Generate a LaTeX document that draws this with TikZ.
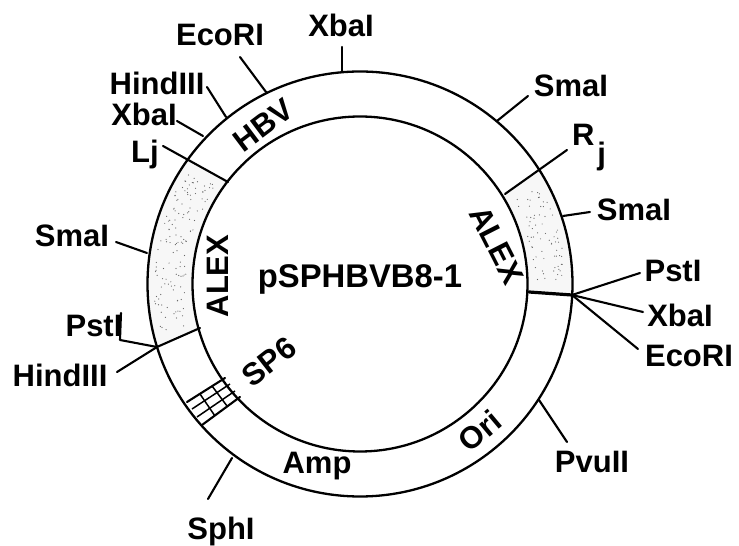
\documentclass[tikz,border=0pt]{standalone}
\usepackage{fontspec}
\setmainfont{Liberation Sans}
\usetikzlibrary{calc}
\tikzset{
  ringline/.style={line width=2.3pt,black},
  tick/.style={line width=2.1pt,black,line cap=round,line join=round},
  hatchline/.style={line width=1.5pt,black},
  lab/.style={inner sep=0pt,outer sep=0pt,anchor=base,font=\fontsize{31}{36}\selectfont\bfseries,text=black},
  inlab/.style={inner sep=0pt,outer sep=0pt,font=\fontsize{31}{36}\selectfont\bfseries,text=black},
  shade/.style={fill=black!3},
}
\begin{document}
\begin{tikzpicture}[x=1pt,y=1pt]
\useasboundingbox (0,0) rectangle (739,546);
\fill[white] (0,0) rectangle (739,546);
\coordinate (c) at (360,262);
% shaded ALEX sectors
\fill[shade] (c) ++(143.7:212.5) arc[start angle=143.7,end angle=197.2,radius=212.5]
  -- ($(c)+(195.4:167.5)$) arc[start angle=195.4,end angle=142.3,radius=167.5] -- cycle;
\fill[shade] (c) ++(32.6:212.5) arc[start angle=32.6,end angle=-2.7,radius=212.5]
  -- ($(c)+(-3:167.5)$) arc[start angle=-3,end angle=32.3,radius=167.5] -- cycle;
\pgfmathsetseed{7}
\foreach \i in {1,...,130}{
  \pgfmathsetmacro{\aa}{146+rnd*48}
  \pgfmathsetmacro{\rr}{174+rnd*32}
  \fill[black!60] ($(c)+(\aa:\rr)$) circle (0.6);
}
\foreach \i in {1,...,70}{
  \pgfmathsetmacro{\aa}{0+rnd*29}
  \pgfmathsetmacro{\rr}{174+rnd*32}
  \fill[black!60] ($(c)+(\aa:\rr)$) circle (0.6);
}
% rings
\draw[ringline] (c) circle (212.5);
\draw[ringline] (c) circle (167.5);

\begin{scope}[shift={(0,546)},y=-1pt]
% end points
\coordinate (ecoT1) at (240,57);   \coordinate (ecoT2) at (266,92);
\coordinate (hinT1) at (207,87);   \coordinate (hinT2) at (226,117);
\coordinate (xbaL1) at (177,121);  \coordinate (xbaL2) at (203,136);
\coordinate (lj1) at (163,146);    \coordinate (lj2) at (228,182);
\coordinate (xbaT1) at (342,47);   \coordinate (xbaT2) at (342,72);
\coordinate (smaT1) at (528,96);   \coordinate (smaT2) at (497,121);
\coordinate (rj1) at (567,150);    \coordinate (rj2) at (505,194);
\coordinate (smaR1) at (590,212);  \coordinate (smaR2) at (563,216);
\coordinate (hub) at (572,295);    \coordinate (hubin) at (529,292);
\coordinate (pstR) at (640,273);   \coordinate (xbaR) at (643,312);
\coordinate (ecoR) at (638,349);
\coordinate (pvu1) at (539,400);   \coordinate (pvu2) at (567,442);
\coordinate (sph1) at (232,458);   \coordinate (sph2) at (208,499);
\coordinate (hinL1) at (117,372);  \coordinate (hinL2) at (157,347);
\coordinate (pstL1) at (121,313);  \coordinate (pstL2) at (120,340);
\coordinate (smaL1) at (116,242);  \coordinate (smaL2) at (147,253);
\coordinate (aleL) at (200,328);
% hatched box corners
\coordinate (hA) at (225,378); \coordinate (hB) at (187,402);
\coordinate (hC) at (240,397); \coordinate (hD) at (202,425);
\coordinate (g1a) at (230,384); \coordinate (g1b) at (192,409);
\coordinate (g2a) at (235,391); \coordinate (g2b) at (197,417);
\coordinate (g3a) at (212,386); \coordinate (g3b) at (227,406);
\coordinate (g4a) at (200,394); \coordinate (g4b) at (215,416);
% labels
\node[lab] (nEcoT) at (220,46) {EcoRI};
\node[lab] (nXbaT) at (341,37) {XbaI};
\node[lab] (nHinT) at (157,95) {HindIII};
\node[lab] (nXbaL) at (144,126) {XbaI};
\node[lab] (nLj) at (145,163) {Lj};
\node[lab] (nSmaT) at (571,97) {SmaI};
\node[lab,anchor=base west] (nRj) at (572,146) {R\kern3pt\lower19pt\hbox{j}};
\node[lab] (nSmaR) at (634,221) {SmaI};
\node[lab] (nPstR) at (673,282) {PstI};
\node[lab] (nXbaR) at (680,327) {XbaI};
\node[lab] (nEcoR) at (689,367) {EcoRI};
\node[lab] (nPvu) at (592,473) {PvuII};
\node[lab] (nSph) at (221,540) {SphI};
\node[lab] (nHinL) at (60,387) {HindIII};
\node[lab] (nPstL) at (94,337) {PstI};
\node[lab] (nSmaL) at (72,247) {SmaI};
\node[lab,font=\fontsize{32.8}{36}\selectfont\bfseries] (nTitle) at (360,288) {pSPHBVB8-1};
\node[inlab,rotate=90] (nAleL) at (218,276) {ALEX};
\node[inlab,rotate=-63] (nAleR) at (497,245) {ALEX};
\node[inlab,rotate=37] (nHbv) at (263,125) {HBV};
\node[inlab,rotate=38] (nSp) at (269,362) {SP6};
\node[lab] (nAmp) at (317,474) {Amp};
\node[inlab,rotate=40] (nOri) at (480,431) {Ori};
% connectors
\draw[tick] (ecoT1) -- (ecoT2);
\draw[tick] (hinT1) -- (hinT2);
\draw[tick] (xbaL1) -- (xbaL2);
\draw[tick] (lj1) -- (lj2);
\draw[tick] (xbaT1) -- (xbaT2);
\draw[tick] (smaT1) -- (smaT2);
\draw[tick] (rj1) -- (rj2);
\draw[tick] (smaR1) -- (smaR2);
\draw[tick,line width=3.2pt] (hubin) -- (hub);
\draw[tick] (hub) -- (pstR);
\draw[tick] (hub) -- (xbaR);
\draw[tick] (hub) -- (ecoR);
\draw[tick] (pvu1) -- (pvu2);
\draw[tick] (sph1) -- (sph2);
\draw[tick] (hinL1) -- (hinL2);
\draw[tick] (pstL1) -- (pstL2) -- (hinL2);
\draw[tick] (smaL1) -- (smaL2);
\draw[tick] (hinL2) -- (aleL);
% hatched box
\draw[tick] (hA) -- (hB);
\draw[tick] (hC) -- (hD);
\draw[hatchline] (g1a) -- (g1b);
\draw[hatchline] (g2a) -- (g2b);
\draw[hatchline] (g3a) -- (g3b);
\draw[hatchline] (g4a) -- (g4b);
\end{scope}
\end{tikzpicture}
\end{document}
